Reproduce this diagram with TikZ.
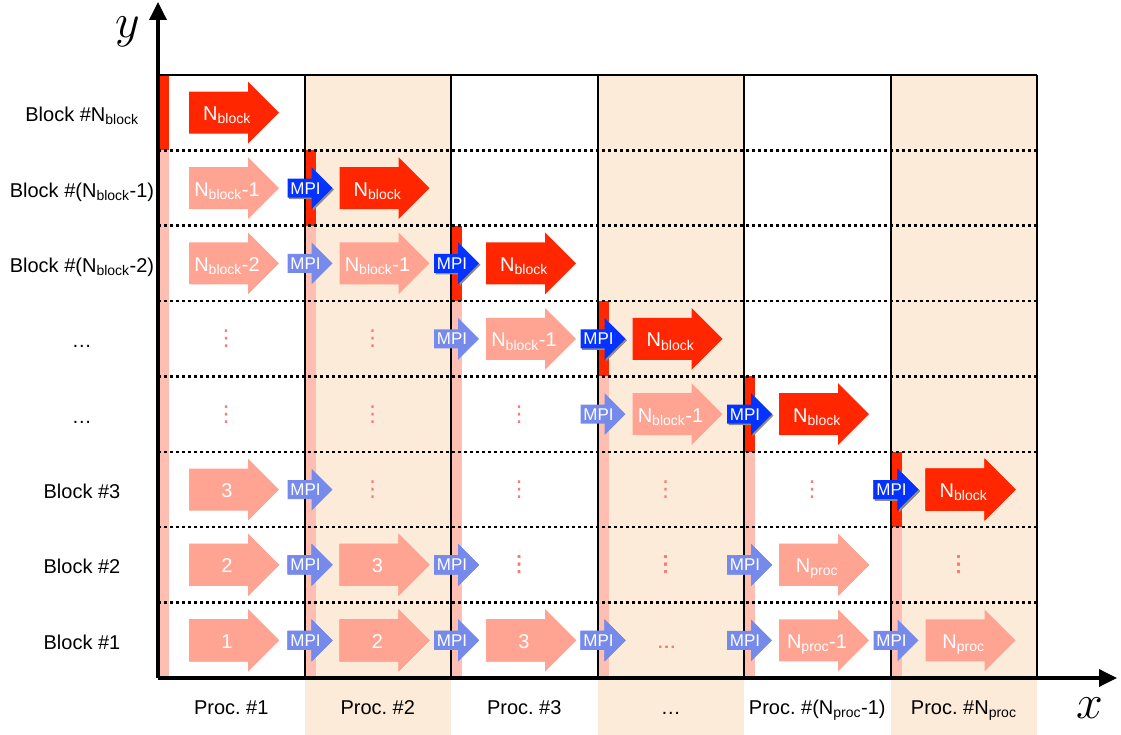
\RequirePackage{fix-cm}
\documentclass[tikz,border=0pt]{standalone}
\usepackage{fontspec}
\setmainfont{Liberation Sans}
\newfontfamily\symfont{DejaVu Sans}
\usetikzlibrary{arrows.meta,shadows}
\definecolor{procbeige}{RGB}{253,235,218}
\definecolor{blockred}{RGB}{255,38,0}
\definecolor{blockpale}{RGB}{255,163,146}
\definecolor{barpink}{RGB}{255,190,178}
\definecolor{mpiblue}{RGB}{4,51,255}
\definecolor{mpipaleblue}{RGB}{118,138,236}
\definecolor{dotpink}{RGB}{255,120,115}
\tikzset{
  bigred/.style={fill=blockred},
  bigpale/.style={fill=blockpale},
  mpibright/.style={fill=mpiblue,drop shadow={fill=black!45,opacity=1,shadow xshift=1.5pt,shadow yshift=-1.5pt}},
  mpipale/.style={fill=mpipaleblue},
  barred/.style={fill=blockred},
  barpale/.style={fill=barpink},
  arrowtext/.style={text=white,font=\fontsize{20}{24}\selectfont,inner sep=0pt,anchor=base},
  mpitext/.style={text=white,font=\fontsize{17}{20}\selectfont,inner sep=0pt,anchor=base},
  celldots/.style={text=dotpink,font=\symfont\fontsize{22}{24}\selectfont,inner sep=0pt},
  rowlabel/.style={font=\fontsize{20}{24}\selectfont,inner sep=0pt,anchor=base},
  gridline/.style={line width=2pt},
  rowsep/.style={line width=2.5pt,dash pattern=on 2.5pt off 3.5pt},
  axisline/.style={line width=3.5pt,-{Triangle[length=18pt,width=17pt]}},
}
\newcommand{\Nb}{N\textsubscript{block}}
\newcommand{\Np}{N\textsubscript{proc}}
% one column = 146.5, one row = 75.375
\newcommand{\bigarrow}[5]{% name, column, row, style, text
  \pgfmathsetmacro{\ax}{(#2-1)*146.5+(#2>1 ? 35 : 31)}
  \pgfmathsetmacro{\ay}{(#3-0.5)*75.375}
  \fill[#4] (\ax,\ay) ++(0,-21) -- ++(59,0) -- ++(0,-10) -- ++(31,31) -- ++(-31,31) -- ++(0,-10) -- ++(-59,0) -- cycle;
  \node[arrowtext] (#1) at (\ax+38,\ay-8) {#5};
}
\newcommand{\mpiarrow}[4]{% name, boundary, row, style
  \pgfmathsetmacro{\ax}{#2*146.5-17}
  \pgfmathsetmacro{\ay}{(#3-0.5)*75.375}
  \fill[#4] (\ax,\ay) ++(0,-9.5) -- ++(24,0) -- ++(0,-11.5) -- ++(21,21) -- ++(-21,21) -- ++(0,-11.5) -- ++(-24,0) -- cycle;
  \node[mpitext] (#1) at (\ax+18,\ay-6) {MPI};
}
\newcommand{\blockdots}[3]{% name, column, row
  \pgfmathsetmacro{\ax}{(#2-1)*146.5+68}
  \pgfmathsetmacro{\ay}{(#3-0.5)*75.375}
  \node[celldots] (#1) at (\ax,\ay) {⋮};
}

\begin{document}
\begin{tikzpicture}[x=1pt,y=1pt]
\useasboundingbox (-158,-57) rectangle (963,678);

% shaded processes
\foreach \c in {2,4,6}
  \fill[procbeige] ({(\c-1)*146.5},-57) rectangle ({\c*146.5},603);

% red bars
\foreach \c/\r in {1/8,2/7,3/6,4/5,5/4,6/3} {
  \fill[barpale] ({(\c-1)*146.5+1},0) rectangle ({(\c-1)*146.5+11},{(\r-1)*75.375});
  \fill[barred] ({(\c-1)*146.5+1},{(\r-1)*75.375}) rectangle ({(\c-1)*146.5+11},{\r*75.375});
}

% grid
\foreach \r in {1,...,7}
  \draw[rowsep] (0,{\r*75.375}) -- (879,{\r*75.375});
\foreach \c in {1,...,6}
  \draw[gridline] ({\c*146.5},0) -- ({\c*146.5},603);
\draw[gridline] (0,603) -- (879,603);

% axes
\coordinate (origin) at (0,0);
\coordinate (ytip) at (0,676);
\coordinate (xtip) at (959,0);
\draw[axisline] (origin) -- (ytip);
\draw[axisline] (origin) -- (xtip);
\node (ylab) at (-30,646) {\fontsize{48}{48}\selectfont$y$};
\node (xlab) at (932,-30) {\fontsize{48}{48}\selectfont$x$};

% row 8
\bigarrow{b8p1}{1}{8}{bigred}{\Nb}
% row 7
\bigarrow{b7p1}{1}{7}{bigpale}{\Nb-1}
\mpiarrow{m7p1}{1}{7}{mpibright}
\bigarrow{b7p2}{2}{7}{bigred}{\Nb}
% row 6
\bigarrow{b6p1}{1}{6}{bigpale}{\Nb-2}
\mpiarrow{m6p1}{1}{6}{mpipale}
\bigarrow{b6p2}{2}{6}{bigpale}{\Nb-1}
\mpiarrow{m6p2}{2}{6}{mpibright}
\bigarrow{b6p3}{3}{6}{bigred}{\Nb}
% row 5
\blockdots{d5p1}{1}{5}
\blockdots{d5p2}{2}{5}
\mpiarrow{m5p2}{2}{5}{mpipale}
\bigarrow{b5p3}{3}{5}{bigpale}{\Nb-1}
\mpiarrow{m5p3}{3}{5}{mpibright}
\bigarrow{b5p4}{4}{5}{bigred}{\Nb}
% row 4
\blockdots{d4p1}{1}{4}
\blockdots{d4p2}{2}{4}
\blockdots{d4p3}{3}{4}
\mpiarrow{m4p3}{3}{4}{mpipale}
\bigarrow{b4p4}{4}{4}{bigpale}{\Nb-1}
\mpiarrow{m4p4}{4}{4}{mpibright}
\bigarrow{b4p5}{5}{4}{bigred}{\Nb}
% row 3
\bigarrow{b3p1}{1}{3}{bigpale}{3}
\mpiarrow{m3p1}{1}{3}{mpipale}
\foreach \c in {2,...,5}
  \blockdots{d3p\c}{\c}{3}
\mpiarrow{m3p5}{5}{3}{mpibright}
\bigarrow{b3p6}{6}{3}{bigred}{\Nb}
% row 2
\bigarrow{b2p1}{1}{2}{bigpale}{2}
\mpiarrow{m2p1}{1}{2}{mpipale}
\bigarrow{b2p2}{2}{2}{bigpale}{3}
\mpiarrow{m2p2}{2}{2}{mpipale}
\blockdots{d2p3}{3}{2}
\blockdots{d2p4}{4}{2}
\mpiarrow{m2p4}{4}{2}{mpipale}
\bigarrow{b2p5}{5}{2}{bigpale}{\Np}
\blockdots{d2p6}{6}{2}
% row 1
\bigarrow{b1p1}{1}{1}{bigpale}{1}
\mpiarrow{m1p1}{1}{1}{mpipale}
\bigarrow{b1p2}{2}{1}{bigpale}{2}
\mpiarrow{m1p2}{2}{1}{mpipale}
\bigarrow{b1p3}{3}{1}{bigpale}{3}
\mpiarrow{m1p3}{3}{1}{mpipale}
\node[arrowtext,text=dotpink] (d1p4) at (508.5,29.7) {\ldots};
\mpiarrow{m1p4}{4}{1}{mpipale}
\bigarrow{b1p5}{5}{1}{bigpale}{\Np-1}
\mpiarrow{m1p5}{5}{1}{mpipale}
\bigarrow{b1p6}{6}{1}{bigpale}{\Np}

% labels
\foreach \r/\t in {8/{Block \#\Nb},7/{Block \#(\Nb-1)},6/{Block \#(\Nb-2)},5/{\ldots},4/{\ldots},3/{Block \#3},2/{Block \#2},1/{Block \#1}}
  \node[rowlabel] (row\r) at (-76,{(\r-0.5)*75.375-9}) {\t};
\foreach \c/\t in {1/{Proc.\ \#1},2/{Proc.\ \#2},3/{Proc.\ \#3},4/{\ldots},5/{Proc.\ \#(\Np-1)},6/{Proc.\ \#\Np}}
  \node[rowlabel] (proc\c) at ({(\c-0.5)*146.5},-37) {\t};
\end{tikzpicture}
\end{document}
